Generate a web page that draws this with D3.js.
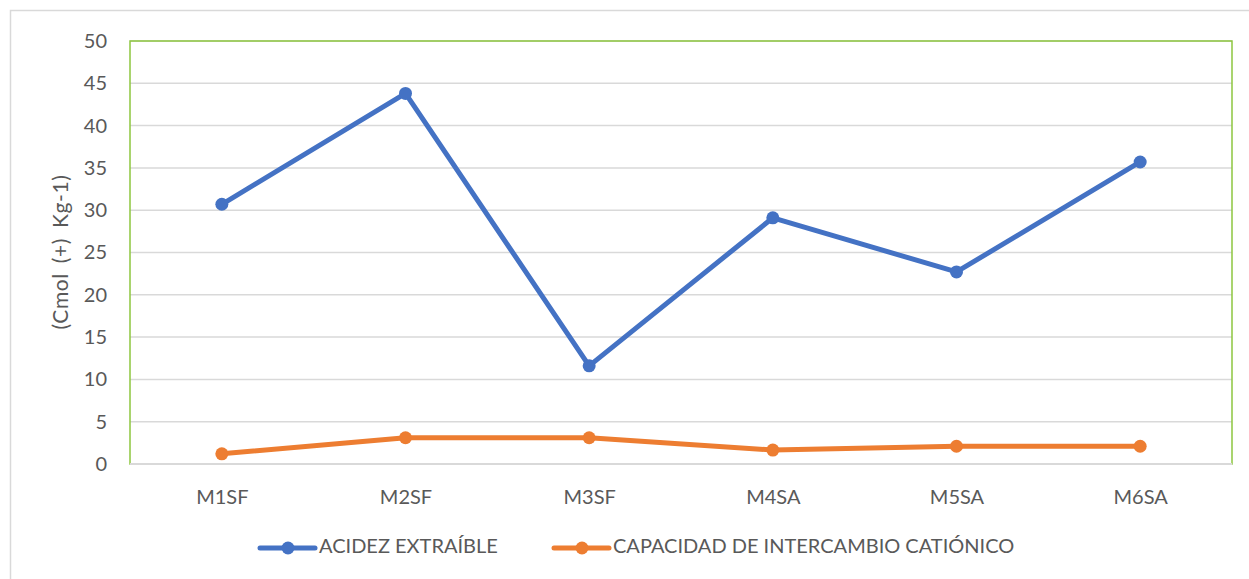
<!DOCTYPE html>
<html>
<head>
<meta charset="utf-8">
<script src="https://cdn.jsdelivr.net/npm/d3@7"></script>
<style>
  body { margin: 0; background: #fff; }
  text { font-family: Lato, "Open Sans", sans-serif; fill: #595959; }
</style>
</head>
<body>
<div id="chart"></div>
<script>
var categories = ["M1SF", "M2SF", "M3SF", "M4SA", "M5SA", "M6SA"];
var acidez = [30.7, 43.8, 11.6, 29.1, 22.7, 35.7];
var cic = [1.2, 3.1, 3.1, 1.65, 2.1, 2.1];
var yTicks = [0, 5, 10, 15, 20, 25, 30, 35, 40, 45, 50];
var seriesNames = ["ACIDEZ EXTRAÍBLE", "CAPACIDAD DE INTERCAMBIO CATIÓNICO"];
var colors = ["#4472c4", "#ed7d31"];

var W = 1249, H = 579;
var margin = {top: 41, right: 17, bottom: 115, left: 130};
var width = W - margin.left - margin.right;
var height = H - margin.top - margin.bottom;

var svg = d3.select("#chart").append("svg")
    .attr("width", W)
    .attr("height", H);

// outer chart border
svg.append("rect")
    .attr("x", 10.5).attr("y", 10.5)
    .attr("width", W).attr("height", H)
    .attr("fill", "none")
    .attr("stroke", "#d9d9d9")
    .attr("stroke-width", 1.5);

var g = svg.append("g")
    .attr("transform", "translate(" + margin.left + "," + margin.top + ")");

var x = d3.scalePoint()
    .domain(categories)
    .range([0, width])
    .padding(0.5);

var y = d3.scaleLinear()
    .domain([0, 50])
    .range([height, 0]);

// gridlines
g.selectAll(".grid")
    .data(yTicks.slice(1))
    .enter().append("line")
    .attr("x1", 0).attr("x2", width)
    .attr("y1", d => y(d)).attr("y2", d => y(d))
    .attr("stroke", "#d9d9d9")
    .attr("stroke-width", 1.5);

// plot area border (green)
g.append("rect")
    .attr("x", 0).attr("y", 0)
    .attr("width", width).attr("height", height)
    .attr("fill", "none")
    .attr("stroke", "#8dc63f")
    .attr("stroke-width", 1.5);

// bottom axis line
g.append("line")
    .attr("x1", 0).attr("x2", width)
    .attr("y1", height).attr("y2", height)
    .attr("stroke", "#d9d9d9")
    .attr("stroke-width", 2);

var yAxis = g.append("g")
    .call(d3.axisLeft(y).tickValues(yTicks).tickSize(0).tickPadding(23));
yAxis.select(".domain").remove();
yAxis.selectAll("text")
    .style("font-size", "20px")
    .attr("fill", "#595959");

var xAxis = g.append("g")
    .attr("transform", "translate(0," + height + ")")
    .call(d3.axisBottom(x).tickSize(0).tickPadding(26));
xAxis.select(".domain").remove();
xAxis.selectAll("text")
    .style("font-size", "20px")
    .attr("fill", "#595959");

g.append("text")
    .attr("transform", "translate(" + (63 - margin.left) + "," + (252 - margin.top) + ") rotate(-90)")
    .attr("text-anchor", "middle")
    .attr("dominant-baseline", "middle")
    .style("font-size", "21px")
    .style("letter-spacing", "0.6px")
    .style("word-spacing", "4px")
    .text("(Cmol (+) Kg-1)");

var line = d3.line()
    .x((d, i) => x(categories[i]))
    .y(d => y(d));

[acidez, cic].forEach(function(vals, k) {
    g.append("path")
        .datum(vals)
        .attr("d", line)
        .attr("fill", "none")
        .attr("stroke", colors[k])
        .attr("stroke-width", 5)
        .attr("stroke-linejoin", "round");
    g.selectAll(".pt" + k)
        .data(vals)
        .enter().append("circle")
        .attr("cx", (d, i) => x(categories[i]))
        .attr("cy", d => y(d))
        .attr("r", 6.5)
        .attr("fill", colors[k]);
});

// legend
var legendX = [260, 554];
var legend = svg.selectAll(".legend")
    .data(seriesNames)
    .enter().append("g")
    .attr("transform", (d, i) => "translate(" + legendX[i] + ",548)");
legend.append("line")
    .attr("x1", 0).attr("x2", 55)
    .attr("stroke", (d, i) => colors[i])
    .attr("stroke-width", 5)
    .attr("stroke-linecap", "round");
legend.append("circle")
    .attr("cx", 28)
    .attr("r", 6.5)
    .attr("fill", (d, i) => colors[i]);
legend.append("text")
    .attr("x", 59)
    .attr("dominant-baseline", "middle")
    .style("font-size", "20px")
    .text(d => d);
</script>
</body>
</html>
